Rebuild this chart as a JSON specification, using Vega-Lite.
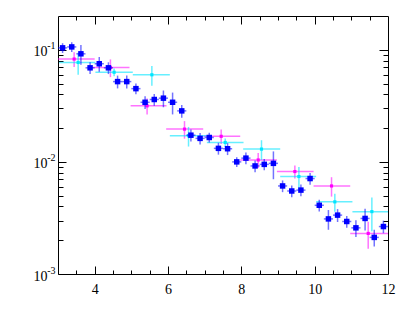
{
  "$schema": "https://vega.github.io/schema/vega-lite/v6.json",
  "width": 330,
  "height": 258,
  "autosize": "none",
  "padding": {"left": 58, "top": 16, "right": 21, "bottom": 53},
  "background": "white",
  "config": {
    "view": {"stroke": "black", "strokeWidth": 1},
    "axis": {"domain": false, "grid": false, "tickColor": "black", "tickWidth": 1, "labelColor": "black", "labelFont": "Liberation Serif, DejaVu Serif, serif", "labelFontSize": 14, "labelFlush": false, "labelOverlap": false, "labelBound": false}
  },
  "data": {"values": [
    {"s":"b","x":3.125,"y":0.104,"xlo":3.0,"xhi":3.25,"ylo":0.0936,"yhi":0.1144},
    {"s":"b","x":3.375,"y":0.106,"xlo":3.25,"xhi":3.5,"ylo":0.0954,"yhi":0.1166},
    {"s":"b","x":3.625,"y":0.092,"xlo":3.5,"xhi":3.75,"ylo":0.0736,"yhi":0.1104},
    {"s":"b","x":3.875,"y":0.069,"xlo":3.75,"xhi":4.0,"ylo":0.0607,"yhi":0.0773},
    {"s":"b","x":4.125,"y":0.075,"xlo":4.0,"xhi":4.25,"ylo":0.0638,"yhi":0.0863},
    {"s":"b","x":4.375,"y":0.069,"xlo":4.25,"xhi":4.5,"ylo":0.0607,"yhi":0.0773},
    {"s":"b","x":4.625,"y":0.052,"xlo":4.5,"xhi":4.75,"ylo":0.0452,"yhi":0.0588},
    {"s":"b","x":4.875,"y":0.052,"xlo":4.75,"xhi":5.0,"ylo":0.0452,"yhi":0.0588},
    {"s":"b","x":5.125,"y":0.045,"xlo":5.0,"xhi":5.25,"ylo":0.0401,"yhi":0.05},
    {"s":"b","x":5.375,"y":0.034,"xlo":5.25,"xhi":5.5,"ylo":0.0296,"yhi":0.0384},
    {"s":"b","x":5.625,"y":0.036,"xlo":5.5,"xhi":5.75,"ylo":0.0317,"yhi":0.0403},
    {"s":"b","x":5.875,"y":0.037,"xlo":5.75,"xhi":6.0,"ylo":0.0307,"yhi":0.0433},
    {"s":"b","x":6.125,"y":0.034,"xlo":6.0,"xhi":6.25,"ylo":0.0265,"yhi":0.0415},
    {"s":"b","x":6.375,"y":0.0285,"xlo":6.25,"xhi":6.5,"ylo":0.0248,"yhi":0.0322},
    {"s":"b","x":6.625,"y":0.0173,"xlo":6.5,"xhi":6.75,"ylo":0.0152,"yhi":0.0194},
    {"s":"b","x":6.875,"y":0.0162,"xlo":6.75,"xhi":7.0,"ylo":0.0143,"yhi":0.0181},
    {"s":"b","x":7.125,"y":0.0165,"xlo":7.0,"xhi":7.25,"ylo":0.0149,"yhi":0.0182},
    {"s":"b","x":7.375,"y":0.0132,"xlo":7.25,"xhi":7.5,"ylo":0.0116,"yhi":0.0148},
    {"s":"b","x":7.625,"y":0.0131,"xlo":7.5,"xhi":7.75,"ylo":0.0115,"yhi":0.0147},
    {"s":"b","x":7.875,"y":0.01,"xlo":7.75,"xhi":8.0,"ylo":0.009,"yhi":0.011},
    {"s":"b","x":8.125,"y":0.0108,"xlo":8.0,"xhi":8.25,"ylo":0.0095,"yhi":0.0121},
    {"s":"b","x":8.375,"y":0.0092,"xlo":8.25,"xhi":8.5,"ylo":0.0081,"yhi":0.0103},
    {"s":"b","x":8.625,"y":0.0095,"xlo":8.5,"xhi":8.75,"ylo":0.0084,"yhi":0.0106},
    {"s":"b","x":8.875,"y":0.0097,"xlo":8.75,"xhi":9.0,"ylo":0.007,"yhi":0.0124},
    {"s":"b","x":9.125,"y":0.0061,"xlo":9.0,"xhi":9.25,"ylo":0.00537,"yhi":0.00683},
    {"s":"b","x":9.375,"y":0.0055,"xlo":9.25,"xhi":9.5,"ylo":0.00484,"yhi":0.00616},
    {"s":"b","x":9.625,"y":0.0056,"xlo":9.5,"xhi":9.75,"ylo":0.00493,"yhi":0.00627},
    {"s":"b","x":9.875,"y":0.0071,"xlo":9.75,"xhi":10.0,"ylo":0.00625,"yhi":0.00795},
    {"s":"b","x":10.125,"y":0.0041,"xlo":10.0,"xhi":10.25,"ylo":0.00361,"yhi":0.00459},
    {"s":"b","x":10.375,"y":0.0031,"xlo":10.25,"xhi":10.5,"ylo":0.00248,"yhi":0.00372},
    {"s":"b","x":10.625,"y":0.00335,"xlo":10.5,"xhi":10.75,"ylo":0.00291,"yhi":0.00379},
    {"s":"b","x":10.875,"y":0.00294,"xlo":10.75,"xhi":11.0,"ylo":0.00259,"yhi":0.00329},
    {"s":"b","x":11.125,"y":0.00258,"xlo":11.0,"xhi":11.25,"ylo":0.00214,"yhi":0.00302},
    {"s":"b","x":11.375,"y":0.00313,"xlo":11.25,"xhi":11.5,"ylo":0.00244,"yhi":0.00382},
    {"s":"b","x":11.625,"y":0.00212,"xlo":11.5,"xhi":11.75,"ylo":0.00176,"yhi":0.00248},
    {"s":"b","x":11.875,"y":0.00265,"xlo":11.75,"xhi":12.0,"ylo":0.00231,"yhi":0.00299},
    {"s":"m","x":3.44,"y":0.0826,"xlo":3.0,"xhi":4.0,"ylo":0.0702,"yhi":0.095},
    {"s":"m","x":4.43,"y":0.0695,"xlo":3.93,"xhi":4.95,"ylo":0.057,"yhi":0.082},
    {"s":"m","x":5.43,"y":0.0316,"xlo":4.98,"xhi":5.96,"ylo":0.0265,"yhi":0.0367},
    {"s":"m","x":6.45,"y":0.0196,"xlo":5.95,"xhi":6.96,"ylo":0.0161,"yhi":0.0231},
    {"s":"m","x":7.45,"y":0.0169,"xlo":6.97,"xhi":7.97,"ylo":0.0144,"yhi":0.0194},
    {"s":"m","x":8.46,"y":0.0104,"xlo":7.97,"xhi":8.97,"ylo":0.0088,"yhi":0.012},
    {"s":"m","x":9.46,"y":0.0082,"xlo":8.97,"xhi":9.97,"ylo":0.0071,"yhi":0.0093},
    {"s":"m","x":10.46,"y":0.0061,"xlo":9.97,"xhi":10.97,"ylo":0.0049,"yhi":0.0073},
    {"s":"m","x":11.46,"y":0.0023,"xlo":10.97,"xhi":12.0,"ylo":0.00168,"yhi":0.00292},
    {"s":"c","x":3.55,"y":0.077,"xlo":3.03,"xhi":4.02,"ylo":0.06,"yhi":0.094},
    {"s":"c","x":4.53,"y":0.063,"xlo":4.02,"xhi":5.04,"ylo":0.058,"yhi":0.068},
    {"s":"c","x":5.56,"y":0.0598,"xlo":5.04,"xhi":6.05,"ylo":0.0478,"yhi":0.0718},
    {"s":"c","x":6.56,"y":0.0171,"xlo":6.05,"xhi":7.06,"ylo":0.0137,"yhi":0.0205},
    {"s":"c","x":7.56,"y":0.0149,"xlo":7.06,"xhi":8.06,"ylo":0.0136,"yhi":0.0162},
    {"s":"c","x":8.55,"y":0.013,"xlo":8.05,"xhi":9.06,"ylo":0.0104,"yhi":0.0156},
    {"s":"c","x":9.57,"y":0.0074,"xlo":9.06,"xhi":10.04,"ylo":0.0058,"yhi":0.009},
    {"s":"c","x":10.55,"y":0.0044,"xlo":10.04,"xhi":11.03,"ylo":0.0036,"yhi":0.0052},
    {"s":"c","x":11.56,"y":0.0036,"xlo":11.03,"xhi":12.0,"ylo":0.0024,"yhi":0.0048}
  ]},
  "resolve": {"axis": {"x": "independent", "y": "independent"}},
  "layer": [
    {
      "transform": [{"filter": "datum.s == 'm'"}],
      "mark": {"type": "rule", "color": "#ff00ff", "strokeWidth": 1.5, "opacity": 0.55, "clip": true},
      "encoding": {
        "x": {"field": "xlo", "type": "quantitative", "title": null, "scale": {"domain": [3, 12], "nice": false, "zero": false},
              "axis": {"orient": "bottom", "values": [4, 6, 8, 10, 12], "tickSize": -8, "labelPadding": 16, "format": "d"}},
        "x2": {"field": "xhi"},
        "y": {"field": "y", "type": "quantitative", "title": null, "scale": {"type": "log", "domain": [0.001, 0.2], "nice": false},
              "axis": {"orient": "left", "values": [0.001, 0.01, 0.1], "tickSize": -8, "labelPadding": 19, "labelBaseline": "middle", "labelOffset": 2, "labelExpr": "'10'"}}
      }
    },
    {
      "transform": [{"filter": "datum.s == 'm'"}],
      "mark": {"type": "rule", "color": "#ff00ff", "strokeWidth": 1.5, "opacity": 0.55, "clip": true},
      "encoding": {
        "x": {"field": "x", "type": "quantitative", "title": null, "scale": {"domain": [3, 12], "nice": false, "zero": false},
              "axis": {"orient": "bottom", "values": [3.5, 4.5, 5, 5.5, 6.5, 7, 7.5, 8.5, 9, 9.5, 10.5, 11, 11.5], "tickSize": -4, "labels": false}},
        "y": {"field": "ylo", "type": "quantitative", "title": null, "scale": {"type": "log", "domain": [0.001, 0.2], "nice": false},
              "axis": {"orient": "left", "values": [0.002, 0.003, 0.004, 0.005, 0.006, 0.007, 0.008, 0.009, 0.02, 0.03, 0.04, 0.05, 0.06, 0.07, 0.08, 0.09], "tickSize": -5, "labels": false}},
        "y2": {"field": "yhi"}
      }
    },
    {
      "transform": [{"filter": "datum.s == 'm'"}],
      "mark": {"type": "point", "shape": "square", "filled": true, "color": "#ff00ff", "opacity": 1, "size": 10, "clip": true},
      "encoding": {
        "x": {"field": "x", "type": "quantitative", "title": null, "scale": {"domain": [3, 12], "nice": false, "zero": false},
              "axis": {"orient": "top", "values": [4, 6, 8, 10], "tickSize": -8, "labels": false}},
        "y": {"field": "y", "type": "quantitative", "title": null, "scale": {"type": "log", "domain": [0.001, 0.2], "nice": false},
              "axis": {"orient": "right", "values": [0.01, 0.1], "tickSize": -9, "labels": false}}
      }
    },
    {
      "transform": [{"filter": "datum.s == 'c'"}],
      "mark": {"type": "rule", "color": "#00e5ff", "strokeWidth": 1.5, "opacity": 0.6, "clip": true},
      "encoding": {
        "x": {"field": "xlo", "type": "quantitative", "title": null, "scale": {"domain": [3, 12], "nice": false, "zero": false},
              "axis": {"orient": "top", "values": [3.5, 4.5, 5, 5.5, 6.5, 7, 7.5, 8.5, 9, 9.5, 10.5, 11, 11.5], "tickSize": -4, "labels": false}},
        "x2": {"field": "xhi"},
        "y": {"field": "y", "type": "quantitative", "title": null, "scale": {"type": "log", "domain": [0.001, 0.2], "nice": false},
              "axis": {"orient": "right", "values": [0.002, 0.003, 0.004, 0.005, 0.006, 0.007, 0.008, 0.009, 0.02, 0.03, 0.04, 0.05, 0.06, 0.07, 0.08, 0.09], "tickSize": -5, "labels": false}}
      }
    },
    {
      "transform": [{"filter": "datum.s == 'c'"}],
      "mark": {"type": "rule", "color": "#00e5ff", "strokeWidth": 1.5, "opacity": 0.6, "clip": true},
      "encoding": {
        "x": {"field": "x", "type": "quantitative", "title": null, "scale": {"domain": [3, 12], "nice": false, "zero": false}, "axis": null},
        "y": {"field": "ylo", "type": "quantitative", "title": null, "scale": {"type": "log", "domain": [0.001, 0.2], "nice": false},
              "axis": {"orient": "left", "values": [0.001, 0.01, 0.1], "ticks": false, "labelPadding": 3, "labelFontSize": 10, "labelBaseline": "middle", "labelOffset": -4,
                       "labelExpr": "datum.value < 0.005 ? '-3' : datum.value < 0.05 ? '-2' : '-1'"}},
        "y2": {"field": "yhi"}
      }
    },
    {
      "transform": [{"filter": "datum.s == 'c'"}],
      "mark": {"type": "point", "shape": "square", "filled": true, "color": "#00e5ff", "opacity": 1, "size": 10, "clip": true},
      "encoding": {
        "x": {"field": "x", "type": "quantitative", "title": null, "scale": {"domain": [3, 12], "nice": false, "zero": false}, "axis": null},
        "y": {"field": "y", "type": "quantitative", "title": null, "scale": {"type": "log", "domain": [0.001, 0.2], "nice": false}, "axis": null}
      }
    },
    {
      "transform": [{"filter": "datum.s == 'b'"}],
      "mark": {"type": "rule", "color": "#0000ff", "strokeWidth": 1.5, "opacity": 0.55, "clip": true},
      "encoding": {
        "x": {"field": "xlo", "type": "quantitative", "title": null, "scale": {"domain": [3, 12], "nice": false, "zero": false}, "axis": null},
        "x2": {"field": "xhi"},
        "y": {"field": "y", "type": "quantitative", "title": null, "scale": {"type": "log", "domain": [0.001, 0.2], "nice": false}, "axis": null}
      }
    },
    {
      "transform": [{"filter": "datum.s == 'b'"}],
      "mark": {"type": "rule", "color": "#0000ff", "strokeWidth": 1.5, "opacity": 0.55, "clip": true},
      "encoding": {
        "x": {"field": "x", "type": "quantitative", "title": null, "scale": {"domain": [3, 12], "nice": false, "zero": false}, "axis": null},
        "y": {"field": "ylo", "type": "quantitative", "title": null, "scale": {"type": "log", "domain": [0.001, 0.2], "nice": false}, "axis": null},
        "y2": {"field": "yhi"}
      }
    },
    {
      "transform": [{"filter": "datum.s == 'b'"}],
      "mark": {"type": "point", "shape": "square", "filled": true, "color": "#0000ff", "opacity": 1, "size": 30, "clip": true},
      "encoding": {
        "x": {"field": "x", "type": "quantitative", "title": null, "scale": {"domain": [3, 12], "nice": false, "zero": false}, "axis": null},
        "y": {"field": "y", "type": "quantitative", "title": null, "scale": {"type": "log", "domain": [0.001, 0.2], "nice": false}, "axis": null}
      }
    }
  ]
}
